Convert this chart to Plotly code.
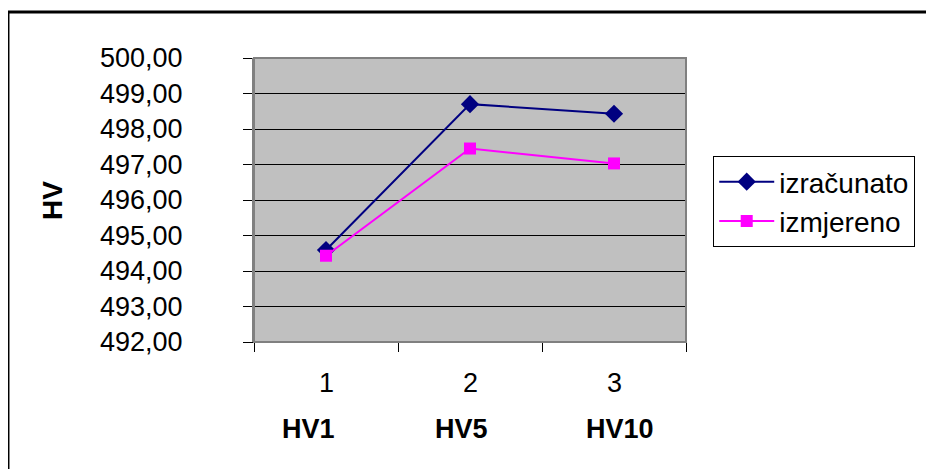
import plotly.graph_objects as go

categories = [1, 2, 3]
tick_labels = ["1", "2", "3"]
group_labels = ["HV1", "HV5", "HV10"]
group_label_pos = [0.88, 1.94, 3.04]
izracunato = [494.59, 498.70, 498.43]
izmjereno = [494.43, 497.45, 497.03]

FONT = "Liberation Sans, Arial, sans-serif"

fig = go.Figure()
fig.add_trace(go.Scatter(
    x=categories, y=izracunato, name="izračunato", mode="lines+markers",
    line=dict(color="#000080", width=2),
    marker=dict(symbol="diamond", size=14, color="#000080"),
))
fig.add_trace(go.Scatter(
    x=categories, y=izmjereno, name="izmjereno", mode="lines+markers",
    line=dict(color="#FF00FF", width=2),
    marker=dict(symbol="square", size=12, color="#FF00FF"),
))

annotations = []
for xv, t in zip(categories, tick_labels):
    annotations.append(dict(x=xv, y=-0.144, xref="x", yref="paper", text=t,
                            xanchor="center", yanchor="middle",
                            showarrow=False, font=dict(size=27, color="black", family=FONT)))
for xv, t in zip(group_label_pos, group_labels):
    annotations.append(dict(x=xv, y=-0.305, xref="x", yref="paper", text="<b>" + t + "</b>",
                            xanchor="center", yanchor="middle",
                            showarrow=False, font=dict(size=27, color="black", family=FONT)))
annotations.append(dict(x=-0.4676, y=0.5, xref="paper", yref="paper", text="<b>HV</b>",
                        xanchor="center", yanchor="middle",
                        textangle=-90, showarrow=False,
                        font=dict(size=28, color="black", family=FONT)))

fig.update_layout(
    width=926, height=461,
    margin=dict(l=246, r=248, t=50, b=127),
    paper_bgcolor="white",
    plot_bgcolor="#C0C0C0",
    separators=",.",
    font=dict(family=FONT, size=27, color="black"),
    showlegend=True,
    legend=dict(
        x=1.063, y=0.655, xanchor="left", yanchor="top",
        bordercolor="black", borderwidth=1, bgcolor="white",
        font=dict(size=28, family=FONT, color="black"),
        tracegroupgap=0,
        itemwidth=55,
    ),
    annotations=annotations,
    shapes=[
        dict(type="rect", xref="paper", yref="paper", x0=-0.5695, x1=1.7,
             y0=-1.0, y1=1.162, line=dict(color="black", width=3)),
        dict(type="rect", xref="paper", yref="paper", x0=0, x1=1, y0=0, y1=1,
             line=dict(color="#808080", width=2), layer="above"),
    ],
)

fig.update_xaxes(
    range=[0.5, 3.5],
    tickvals=[0.5, 1.5, 2.5, 3.5],
    ticktext=["", "", "", ""],
    ticks="outside", ticklen=9, tickcolor="black", tickwidth=1,
    showgrid=False, zeroline=False,
    showline=True, linecolor="black", linewidth=1,
)
fig.update_yaxes(
    range=[492, 500],
    dtick=1, tick0=492,
    tickformat=".2f",
    ticks="outside", ticklen=9, tickcolor="black", tickwidth=1,
    ticklabelstandoff=55,
    showgrid=True, gridcolor="black", gridwidth=1,
    zeroline=False,
    showline=True, linecolor="#808080", linewidth=2,
    tickfont=dict(size=27, family=FONT, color="black"),
)

fig.write_html("out.html")
